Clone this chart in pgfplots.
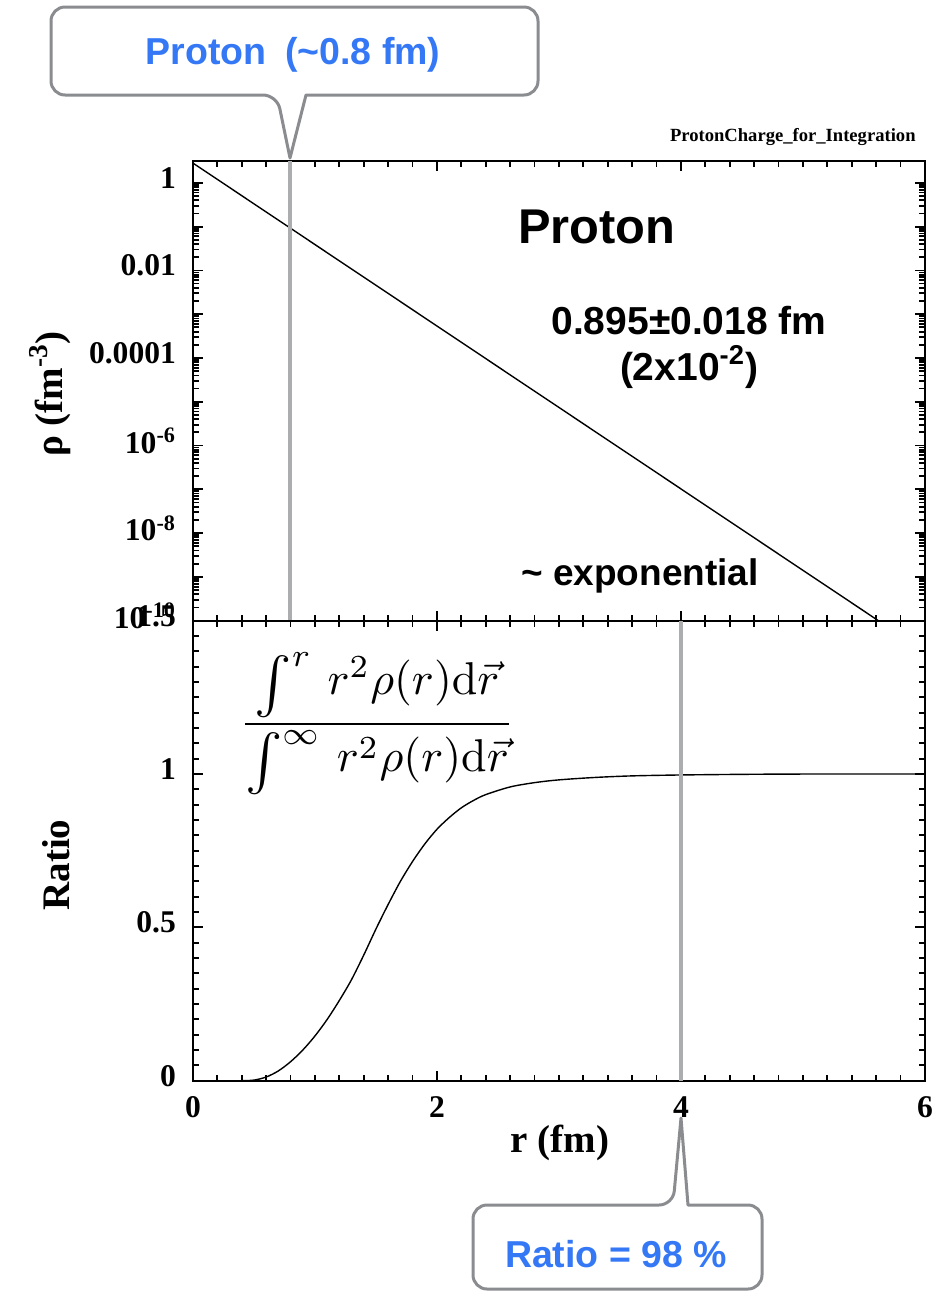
\documentclass[border=0pt]{standalone}
\usepackage[no-math]{fontspec}
\setmainfont{Liberation Serif}
\newfontfamily\hel{Liberation Sans}
\usepackage{pgfplots}
\pgfplotsset{compat=1.18}
\definecolor{callblue}{HTML}{3478F6}
\definecolor{callgray}{HTML}{8A8C90}
\definecolor{vgray}{HTML}{ABADAF}
\newcommand\bint{\mathop{\raisebox{-0.3ex}{\scalebox{1.22}{$\textstyle\int$}}}\nolimits}

\pgfplotsset{rootstyle/.style={
  scale only axis, width=366pt, height=230pt, xmin=0, xmax=6,
  tick align=inside, tick pos=both,
  axis line style={line width=1pt},
  tick style={black, line width=0.9pt},
  major tick length=5pt, minor tick length=3pt,
  xtick={0,2,4,6}, minor x tick num=9,
  /pgf/number format/assume math mode=true,
  ticklabel style={font=\fontsize{15.8}{16}\selectfont\bfseries},
  yticklabel style={xshift=-5pt, yshift=2.4pt},
  xticklabel style={yshift=-4.5pt},
}}

\pgfplotstableread{
r ratio
0.40 0.000
0.50 0.002
0.60 0.012
0.70 0.032
0.80 0.062
0.90 0.100
1.00 0.146
1.10 0.200
1.20 0.262
1.30 0.330
1.40 0.410
1.50 0.495
1.60 0.575
1.70 0.650
1.80 0.715
1.90 0.772
2.00 0.820
2.10 0.858
2.20 0.890
2.30 0.914
2.40 0.933
2.60 0.958
2.80 0.972
3.00 0.981
3.30 0.989
3.60 0.994
4.00 0.997
4.50 0.999
5.00 1.000
6.00 1.000
}\ratiotable

\begin{document}
\begin{tikzpicture}
\path[use as bounding box] (0,0) rectangle (472pt,-646pt);

% ---------- top panel ----------
\begin{axis}[rootstyle,
  at={(96.5pt,-80.35pt)}, anchor=north west,
  ymode=log, ymin=1e-10, ymax=3.2,
  ytick={1e-10,1e-9,1e-8,1e-7,1e-6,1e-5,1e-4,1e-3,1e-2,1e-1,1},
  yticklabels={10\textsuperscript{-10},,10\textsuperscript{-8},,10\textsuperscript{-6},,0.0001,,0.01,,1},
  xticklabels={},
]
\addplot[black, line width=0.7pt] coordinates {
 (0,2.82) (1,3.89e-2) (2,5.37e-4) (3,7.41e-6) (4,1.023e-7) (5,1.413e-9) (6,1.95e-11)};
\draw[vgray, line width=2pt] (axis cs:0.795,1e-10) -- (axis cs:0.795,3.2);
\end{axis}

% ---------- bottom panel ----------
\begin{axis}[rootstyle,
  at={(96.5pt,-310.35pt)}, anchor=north west,
  ymin=0, ymax=1.5, ytick={0,0.5,1,1.5}, minor y tick num=9,
]
\addplot[black, line width=0.7pt, smooth] table[x=r, y=ratio] {\ratiotable};
\draw[vgray, line width=2pt] (axis cs:4,0) -- (axis cs:4,1.5);
\end{axis}

\begin{scope}[x=0.5pt, y=-0.5pt]
% title
\node[anchor=base east, font=\fontsize{9.3}{10}\selectfont\bfseries, inner sep=0pt] at (916,141) {ProtonCharge\_for\_Integration};
% axis labels
\node[rotate=90, font=\fontsize{19.5}{20}\selectfont\bfseries] at (50,394) {ρ (fm\textsuperscript{-3})};
\node[rotate=90, font=\fontsize{19.5}{20}\selectfont\bfseries] at (56,865) {Ratio};
\node[font=\fontsize{19.5}{20}\selectfont\bfseries] at (560,1143) {r (fm)};
% texts in top panel
\node[anchor=base, inner sep=0pt, font=\hel\bfseries\fontsize{24.4}{26}\selectfont] at (597,243) {Proton};
\node[anchor=base, inner sep=0pt, font=\hel\bfseries\fontsize{19.5}{20}\selectfont] at (689,334) {0.895±0.018 fm};
\node[anchor=base, inner sep=0pt, font=\hel\bfseries\fontsize{19.5}{20}\selectfont] at (689,380) {(2x10\textsuperscript{-2})};
\node[anchor=base, inner sep=0pt, font=\hel\bfseries\fontsize{18.5}{20}\selectfont] at (640,585) {\textasciitilde\ exponential};
% formula
\node[inner sep=0pt] at (377,724) {\scalebox{2.3}{$\displaystyle\frac{\bint^{r}\, r^2\rho(r)\mathrm{d}\vec{r}}{\bint^{\infty}\, r^2\rho(r)\mathrm{d}\vec{r}}$}};
% callout 1
\draw[callgray, line width=1.5pt, fill=white, line join=round]
  (290,158) -- (306,95) [rounded corners=7pt] -- (538,95) -- (538,7) -- (51,7) -- (51,95) -- (277,95) [sharp corners] -- cycle;
\node[anchor=base, inner sep=0pt, text=callblue, font=\hel\bfseries\fontsize{18.75}{20}\selectfont] at (293,64) {Proton\hspace{0.5em}(\textasciitilde0.8 fm)};
% callout 2
\draw[callgray, line width=1.5pt, fill=white, line join=round]
  (681,1118) -- (688,1205) [rounded corners=7pt] -- (762,1205) -- (762,1289) -- (473,1289) -- (473,1205) -- (673,1205) [sharp corners] -- cycle;
\node[anchor=base, inner sep=0pt, text=callblue, font=\hel\bfseries\fontsize{18.75}{20}\selectfont] at (616,1267) {Ratio = 98 \%};
\end{scope}
\end{tikzpicture}
\end{document}
